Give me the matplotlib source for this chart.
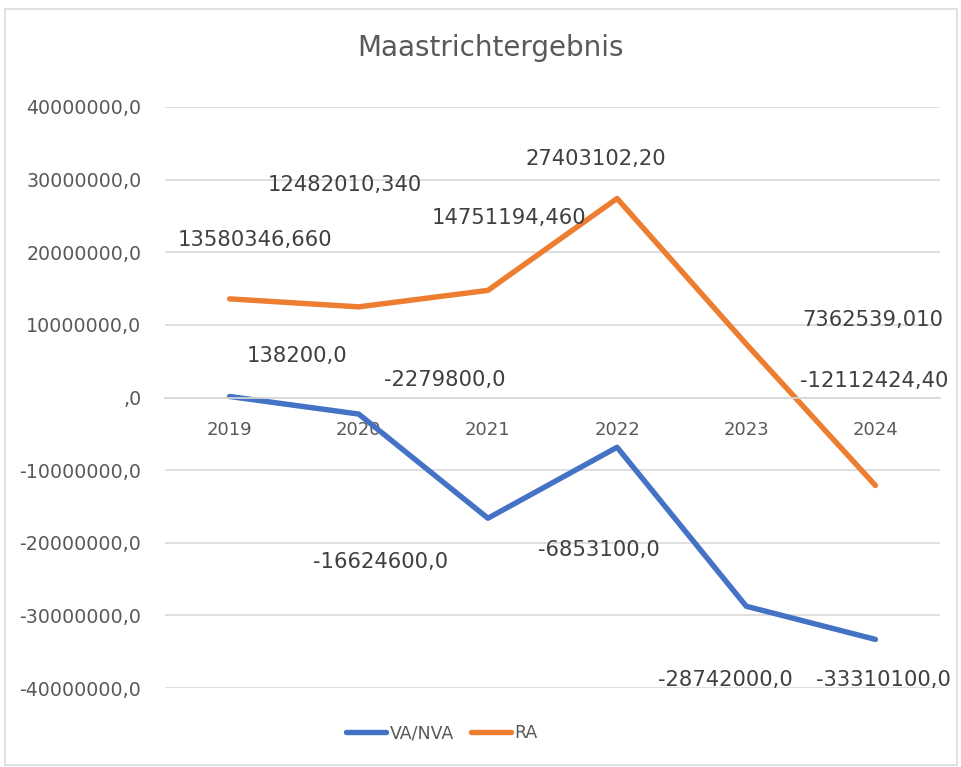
import matplotlib
matplotlib.use('Agg')
import matplotlib.pyplot as plt
from matplotlib.patches import Rectangle
from matplotlib.ticker import FuncFormatter

years = ['2019', '2020', '2021', '2022', '2023', '2024']
va_nva = [138200.0, -2279800.0, -16624600.0, -6853100.0, -28742000.0, -33310100.0]
ra = [13580346.66, 12482010.34, 14751194.46, 27403102.2, 7362539.01, -12112424.4]
va_labels = ['138200,0', '-2279800,0', '-16624600,0', '-6853100,0', '-28742000,0', '-33310100,0']
ra_labels = ['13580346,660', '12482010,340', '14751194,460', '27403102,20', '7362539,010', '-12112424,40']

# label offsets in pixels (Excel-style free placement)
va_off = [(67, 40), (86, 34), (-107, -44), (-18, -103), (-21, -74), (8, -41)]
ra_off = [(25, 59), (-14, 122), (21, 72), (-21, 39), (127, 24), (-1, 104)]

BLUE, ORANGE = '#4472C4', '#ED7D31'
TXT, GRID = '#595959', '#d9d9d9'
plt.rcParams['font.family'] = 'DejaVu Sans'

fig = plt.figure(figsize=(9.61, 7.67), dpi=100)
fig.patches.append(Rectangle((5/961, 2/767), 952/961, 756/767, transform=fig.transFigure,
                             fill=False, edgecolor=GRID, linewidth=1.2))
ax = fig.add_axes([165/961, 79/767, 775/961, 581/767])
x = list(range(len(years)))
ax.plot(x, va_nva, color=BLUE, linewidth=3.9, solid_capstyle='round', label='VA/NVA')
ax.plot(x, ra, color=ORANGE, linewidth=3.9, solid_capstyle='round', label='RA')

for xi, v, s, o in zip(x, va_nva, va_labels, va_off):
    ax.annotate(s, (xi, v), xytext=o, textcoords='offset pixels', ha='center', va='center',
                fontsize=15.2, color='#404040')
for xi, v, s, o in zip(x, ra, ra_labels, ra_off):
    ax.annotate(s, (xi, v), xytext=o, textcoords='offset pixels', ha='center', va='center',
                fontsize=15.2, color='#404040')

ax.set_xlim(-0.5, 5.5)
ax.set_ylim(-40000000, 40000000)
ax.set_yticks(range(-40000000, 40000001, 10000000))
ax.yaxis.set_major_formatter(FuncFormatter(lambda v, p: ',0' if v == 0 else f'{int(v)},0'))
ax.set_xticks(x)
ax.set_xticklabels(years)
ax.grid(axis='y', color=GRID, linewidth=1.2)
ax.set_axisbelow(True)
for s in ['top', 'right', 'left']:
    ax.spines[s].set_visible(False)
ax.spines['bottom'].set_position(('data', 0))
ax.spines['bottom'].set_color(GRID)
ax.spines['bottom'].set_linewidth(1.2)
ax.tick_params(axis='x', length=0, pad=17, labelsize=13, labelcolor=TXT)
ax.tick_params(axis='y', length=0, pad=17, labelsize=13.7, labelcolor=TXT)

fig.text(490/961, 1 - 48/767, 'Maastrichtergebnis', ha='center', va='center', fontsize=20, color=TXT)
fig.legend(loc='center', bbox_to_anchor=(442/961, 1 - 733/767), ncol=2, frameon=False,
           fontsize=12.5, labelcolor=TXT, handlelength=2.3, handletextpad=0.2, columnspacing=1.0)

fig.savefig('out.png', dpi=100)
